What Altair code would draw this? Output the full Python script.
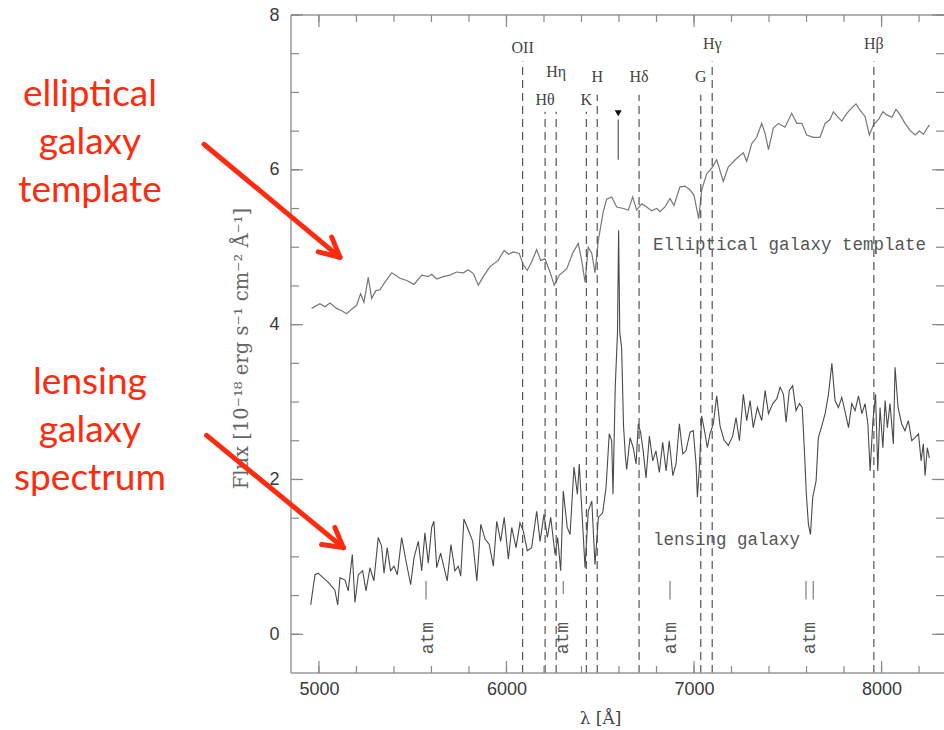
import altair as alt
import pandas as pd

X_MIN, X_MAX = 4851, 8333
Y_MIN, Y_MAX = -0.5, 8.0
W, H = 653, 658

# ---------------- spectra ----------------
ell_wl = [4961, 5005, 5032, 5059, 5094, 5121, 5148, 5174, 5201, 5222, 5240, 5263, 5281, 5304, 5325,
          5352, 5388, 5432, 5468, 5507, 5548, 5583, 5601, 5628, 5663, 5699, 5734, 5770, 5796, 5823,
          5850, 5876, 5912, 5956, 5988, 6010, 6036, 6068, 6090, 6111, 6134, 6161, 6182, 6205, 6232,
          6255, 6282, 6321, 6356, 6383, 6401, 6419, 6436, 6455, 6472, 6490, 6516, 6534, 6561, 6588,
          6623, 6650, 6673, 6694, 6721, 6748, 6774, 6801, 6819, 6845, 6872, 6893, 6925, 6952, 6979,
          7000, 7014, 7025, 7041, 7068, 7094, 7121, 7156, 7183, 7228, 7263, 7281, 7308, 7334, 7361,
          7379, 7397, 7423, 7450, 7485, 7521, 7548, 7575, 7601, 7636, 7672, 7699, 7725, 7743, 7764,
          7788, 7815, 7841, 7864, 7885, 7912, 7935, 7957, 7984, 8007, 8028, 8055, 8077, 8099, 8125,
          8152, 8179, 8201, 8223, 8255]
ell_flux = [4.21, 4.27, 4.23, 4.28, 4.21, 4.18, 4.14, 4.20, 4.25, 4.40, 4.29, 4.61, 4.34, 4.44, 4.45,
            4.55, 4.67, 4.60, 4.57, 4.52, 4.64, 4.62, 4.65, 4.59, 4.62, 4.64, 4.68, 4.67, 4.71, 4.66,
            4.51, 4.62, 4.75, 4.83, 4.96, 4.91, 4.94, 4.92, 4.77, 4.70, 4.81, 4.97, 4.83, 4.85, 4.68,
            4.51, 4.64, 4.72, 4.94, 5.05, 4.83, 4.55, 5.00, 4.92, 4.67, 5.09, 5.46, 5.62, 5.65, 5.52,
            5.50, 5.48, 5.65, 5.48, 5.56, 5.52, 5.47, 5.50, 5.46, 5.52, 5.63, 5.54, 5.78, 5.79, 5.74,
            5.67, 5.50, 5.37, 5.74, 5.95, 6.02, 6.13, 5.85, 6.04, 6.15, 6.22, 6.11, 6.34, 6.42, 6.60,
            6.47, 6.26, 6.54, 6.60, 6.55, 6.73, 6.60, 6.60, 6.45, 6.42, 6.42, 6.60, 6.65, 6.75, 6.69,
            6.63, 6.73, 6.80, 6.85, 6.77, 6.69, 6.45, 6.58, 6.65, 6.75, 6.71, 6.68, 6.78, 6.71, 6.60,
            6.51, 6.45, 6.50, 6.46, 6.58]

lens_wl = [4956, 4979, 4996, 5023, 5050, 5068, 5085, 5100, 5112, 5139, 5156, 5178, 5192, 5210, 5233,
           5251, 5272, 5293, 5316, 5334, 5347, 5364, 5382, 5400, 5418, 5441, 5464, 5489, 5507, 5530,
           5548, 5565, 5583, 5601, 5613, 5628, 5649, 5667, 5684, 5704, 5725, 5743, 5756, 5773, 5796,
           5820, 5842, 5863, 5886, 5908, 5930, 5948, 5969, 5988, 6010, 6028, 6051, 6072, 6090, 6111,
           6134, 6161, 6179, 6200, 6218, 6236, 6259, 6273, 6289, 6303, 6324, 6339, 6360, 6378, 6388,
           6401, 6419, 6436, 6455, 6472, 6490, 6513, 6531, 6548, 6561, 6568, 6580, 6592, 6598, 6604,
           6614, 6624, 6634, 6641, 6659, 6676, 6691, 6703, 6715, 6729, 6744, 6762, 6780, 6797, 6815,
           6833, 6851, 6868, 6887, 6904, 6922, 6940, 6957, 6979, 6996, 7011, 7018, 7028, 7041, 7059,
           7071, 7085, 7103, 7121, 7139, 7160, 7183, 7206, 7224, 7242, 7263, 7281, 7299, 7316, 7338,
           7361, 7379, 7397, 7420, 7441, 7459, 7477, 7491, 7508, 7526, 7544, 7562, 7577, 7588, 7599,
           7610, 7621, 7633, 7651, 7663, 7681, 7699, 7717, 7735, 7752, 7770, 7788, 7806, 7824, 7841,
           7859, 7877, 7895, 7912, 7927, 7939, 7954, 7968, 7980, 7992, 8007, 8019, 8031, 8045, 8063,
           8072, 8088, 8107, 8125, 8143, 8161, 8179, 8197, 8211, 8223, 8232, 8244, 8255]
lens_flux = [0.38, 0.77, 0.79, 0.73, 0.67, 0.62, 0.57, 0.38, 0.73, 0.70, 0.56, 1.03, 0.41, 0.77, 0.82,
             0.56, 0.86, 0.69, 1.25, 1.14, 0.79, 1.12, 0.82, 0.88, 0.77, 1.25, 0.95, 0.64, 0.99, 1.20,
             0.82, 1.31, 0.92, 1.38, 1.46, 0.86, 1.05, 0.86, 0.69, 1.16, 0.82, 0.88, 0.75, 1.49, 1.35,
             1.20, 0.69, 1.42, 1.23, 1.16, 0.88, 1.46, 1.20, 1.51, 0.97, 1.38, 1.12, 1.44, 1.33, 1.08,
             1.12, 1.59, 1.20, 1.55, 1.25, 1.51, 1.03, 1.25, 0.82, 1.85, 1.38, 1.29, 2.16, 1.81, 2.20,
             1.64, 0.86, 1.59, 1.72, 0.90, 1.51, 1.57, 1.90, 2.59, 2.50, 1.81, 3.20, 3.90, 5.22, 3.90,
             3.70, 2.70, 2.30, 2.13, 2.54, 2.41, 2.20, 2.72, 2.61, 2.37, 2.02, 2.56, 2.24, 2.37, 2.09,
             2.48, 2.11, 2.50, 2.05, 2.20, 2.72, 2.33, 2.37, 2.61, 2.63, 2.20, 1.77, 2.13, 2.82, 2.59,
             2.41, 2.59, 2.72, 3.08, 2.69, 2.51, 2.44, 2.56, 2.80, 2.50, 3.10, 2.76, 3.02, 2.67, 2.93,
             2.76, 3.15, 2.85, 2.98, 3.04, 3.19, 3.10, 2.74, 3.15, 3.21, 2.89, 2.98, 2.93, 2.41, 1.81,
             1.42, 1.29, 1.77, 1.98, 2.54, 2.69, 2.85, 3.10, 3.50, 3.02, 2.93, 3.06, 2.87, 2.67, 2.98,
             2.89, 3.08, 2.85, 2.98, 2.72, 2.11, 2.76, 3.10, 2.11, 2.93, 2.41, 3.02, 2.67, 2.98, 2.46,
             3.45, 2.93, 2.72, 2.63, 2.76, 2.50, 2.54, 2.59, 2.24, 2.46, 2.05, 2.41, 2.28]

# ---------------- spectral lines (z ~ 0.633) ----------------
line_names = ["OII", "Hθ", "Hη", "K", "H", "Hδ", "G", "Hγ", "Hβ"]
line_wl = [6086, 6206, 6265, 6426, 6484, 6707, 7036, 7097, 7959]
line_label_y = [7.58, 6.90, 7.27, 6.90, 7.20, 7.20, 7.20, 7.62, 7.62]
line_top = [7.40, 6.75, 6.75, 6.75, 6.97, 6.97, 6.97, 7.40, 7.40]

# emission-line marker
marker_wl = [6596]
marker_y = [6.73]
marker_bar = [6.65, 6.13]

# atmospheric bands
atm_bar_wl = [5571, 6303, 6872, 7597, 7636]
atm_bar_lo = [0.45, 0.52, 0.45, 0.45, 0.45]
atm_bar_hi = [0.69, 0.69, 0.69, 0.69, 0.69]
atm_text_wl = [5581, 6301, 6877, 7619]
atm_text_y = [-0.05, -0.05, -0.05, -0.05]

# in-plot labels
spec_labels = ["Elliptical galaxy template", "lensing galaxy"]
spec_label_wl = [6781, 6781]
spec_label_y = [5.03, 1.22]

# red annotations
red_lines = ["elliptical", "galaxy", "template", "lensing", "galaxy", "spectrum"]
red_wl = [3779, 3779, 3779, 3779, 3779, 3779]
red_y = [6.97, 6.35, 5.73, 3.24, 2.62, 2.00]
arrow_x1 = [4387, 5112, 5112, 4401, 5130, 5130]
arrow_y1 = [6.33, 4.87, 4.87, 2.57, 1.12, 1.12]
arrow_x2 = [5112, 4996, 5068, 5130, 5014, 5085]
arrow_y2 = [4.87, 4.94, 5.13, 1.12, 1.16, 1.38]

# ticks
x_label_vals = [5000, 6000, 7000, 8000]
x_minor = [5000 + 200 * i for i in range(17)]
x_major = [5000, 6000, 7000, 8000]
y_label_vals = [0, 2, 4, 6, 8]
y_minor = [0.5 * i for i in range(17)]
y_major = [0, 2, 4, 6, 8]

GRAY = "#555555"
RED = "#FF2B0F"
FRAME = "#999999"

xs = alt.Scale(domain=[X_MIN, X_MAX], nice=False, zero=False)
ys = alt.Scale(domain=[Y_MIN, Y_MAX], nice=False, zero=False)

xaxis = alt.Axis(values=x_label_vals, format="d", ticks=False, domain=False, grid=False,
                 labelFont="Liberation Sans", labelFontSize=18, labelColor="#3a3a3a",
                 labelPadding=7, title="λ [Å]", titleFont="DejaVu Serif",
                 titleFontSize=17, titleFontWeight="normal", titleColor="#444444",
                 titleX=309, titleY=45, titleAlign="center", titleBaseline="middle")
yaxis = alt.Axis(values=y_label_vals, format="d", ticks=False, domain=False, grid=False,
                 labelFont="Liberation Sans", labelFontSize=18, labelColor="#3a3a3a",
                 labelPadding=12, title="Flux [10⁻¹⁸ erg s⁻¹ cm⁻² Å⁻¹]",
                 titleFont="DejaVu Serif", titleFontSize=19.5, titleFontWeight="normal",
                 titleColor="#666666", titleX=-50, titleY=333, titleAngle=270,
                 titleAlign="center", titleBaseline="middle")


def X(f):
    return alt.X(f, type="quantitative", scale=xs, axis=xaxis)


def Y(f):
    return alt.Y(f, type="quantitative", scale=ys, axis=yaxis)


ell_df = pd.DataFrame({"wl": ell_wl, "flux": ell_flux})
lens_df = pd.DataFrame({"wl": lens_wl, "flux": lens_flux})

ell = alt.Chart(ell_df).mark_line(color="#777777", strokeWidth=1.2).encode(
    x=X("wl"), y=Y("flux"))
lens = alt.Chart(lens_df).mark_line(color="#4a4a4a", strokeWidth=1.1).encode(
    x=X("wl"), y=Y("flux"))

lines_df = pd.DataFrame({"name": line_names, "wl": line_wl, "ly": line_label_y,
                         "top": line_top, "bot": [Y_MIN] * len(line_wl)})
dashes = alt.Chart(lines_df).mark_rule(color=GRAY, strokeWidth=1.2, strokeDash=[8, 5]).encode(
    x=X("wl"), y=Y("bot"), y2="top:Q")
line_text = alt.Chart(lines_df).mark_text(font="Liberation Serif", fontSize=16, color="#444444",
                                          baseline="middle", align="center").encode(
    x=X("wl"), y=Y("ly"), text="name:N")

mk_df = pd.DataFrame({"wl": marker_wl, "y": marker_y})
marker = alt.Chart(mk_df).mark_point(shape="triangle-down", filled=True, color="#111111",
                                     size=50, opacity=1).encode(x=X("wl"), y=Y("y"))
mkbar_df = pd.DataFrame({"wl": marker_wl, "a": [marker_bar[0]], "b": [marker_bar[1]]})
marker_bar_l = alt.Chart(mkbar_df).mark_rule(color="#666666", strokeWidth=1.3).encode(
    x=X("wl"), y=Y("a"), y2="b:Q")

atmb_df = pd.DataFrame({"wl": atm_bar_wl, "lo": atm_bar_lo, "hi": atm_bar_hi})
atm_bars = alt.Chart(atmb_df).mark_rule(color="#888888", strokeWidth=1.3).encode(
    x=X("wl"), y=Y("lo"), y2="hi:Q")
atmt_df = pd.DataFrame({"wl": atm_text_wl, "y": atm_text_y, "t": ["atm"] * len(atm_text_wl)})
atm_text = alt.Chart(atmt_df).mark_text(font="Liberation Mono", fontSize=18, color="#555555",
                                        angle=270, align="center", baseline="middle").encode(
    x=X("wl"), y=Y("y"), text="t:N")

sl_df = pd.DataFrame({"t": spec_labels, "wl": spec_label_wl, "y": spec_label_y})
spec_text = alt.Chart(sl_df).mark_text(font="Liberation Mono", fontSize=17.5, color="#555555",
                                       align="left", baseline="middle").encode(
    x=X("wl"), y=Y("y"), text="t:N")

red_df = pd.DataFrame({"t": red_lines, "wl": red_wl, "y": red_y, "i": list(range(len(red_lines)))})
red_text = alt.Chart(red_df).mark_text(font="Lato", fontSize=37, color=RED, align="center",
                                       baseline="middle").encode(
    x=X("wl"), y=Y("y"), text="t:N", detail="i:N")

arr_df = pd.DataFrame({"x1": arrow_x1, "y1": arrow_y1, "x2": arrow_x2, "y2": arrow_y2})
arrows = alt.Chart(arr_df).mark_rule(color=RED, strokeWidth=5, strokeCap="round").encode(
    x=X("x1"), y=Y("y1"), x2="x2:Q", y2="y2:Q")

# frame: left, bottom, top (right edge lies outside the cropped picture)
frame_df = pd.DataFrame({"xa": [X_MIN, X_MIN, X_MIN], "xb": [X_MIN, X_MAX, X_MAX],
                         "ya": [Y_MIN, Y_MIN, Y_MAX], "yb": [Y_MAX, Y_MIN, Y_MAX]})
frame = alt.Chart(frame_df).mark_rule(color=FRAME, strokeWidth=1.5).encode(
    x=X("xa"), x2="xb:Q", y=Y("ya"), y2="yb:Q")

# frame ticks (inward)
TICK = "#888888"


def xticks(vals, edge, off):
    df = pd.DataFrame({"v": vals, "e": [edge] * len(vals)})
    return alt.Chart(df).mark_rule(color=TICK, strokeWidth=1.2, y2Offset=off).encode(
        x=X("v"), y=Y("e"), y2="e:Q")


def yticks(vals, edge, off):
    df = pd.DataFrame({"v": vals, "e": [edge] * len(vals)})
    return alt.Chart(df).mark_rule(color=TICK, strokeWidth=1.2, x2Offset=off).encode(
        y=Y("v"), x=X("e"), x2="e:Q")


ticks = [
    xticks(x_minor, Y_MIN, -7), xticks(x_major, Y_MIN, -12),
    xticks(x_minor, Y_MAX, 7), xticks(x_major, Y_MAX, 12),
    yticks(y_minor, X_MIN, 8), yticks(y_major, X_MIN, 12),
    yticks(y_minor, X_MAX, -8), yticks(y_major, X_MAX, -12),
]

chart = alt.layer(
    ell, dashes, line_text, lens, marker, marker_bar_l, atm_bars, atm_text, spec_text,
    frame, *ticks, red_text, arrows
).properties(
    width=W, height=H,
    autosize=alt.AutoSizeParams(type="none"),
    padding={"left": 291, "top": 15, "right": 0, "bottom": 57},
    background="white",
).configure_view(strokeWidth=0)

chart.save("out.html", embed_options={"renderer": "svg", "actions": False})
